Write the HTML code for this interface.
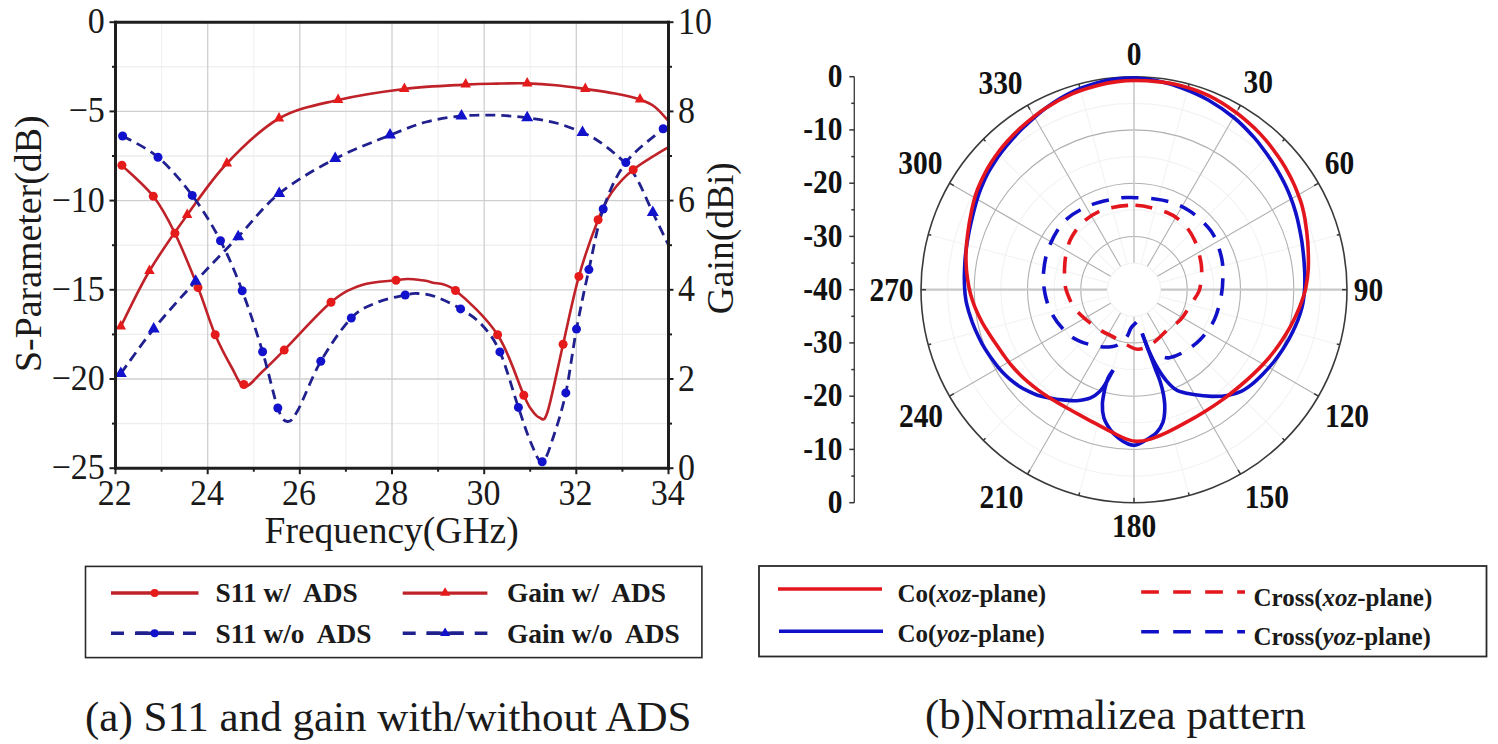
<!DOCTYPE html>
<html><head><meta charset="utf-8"><style>
html,body{margin:0;padding:0;background:#fff;}
body{width:1498px;height:744px;overflow:hidden;font-family:"Liberation Serif",serif;}
svg{display:block;}
</style></head><body>
<svg width="1498" height="744" viewBox="0 0 1498 744">
<rect width="1498" height="744" fill="#ffffff"/>
<line x1="161.6" y1="22.2" x2="161.6" y2="468.2" stroke="#f2f2f2" stroke-width="1.2"/>
<line x1="253.8" y1="22.2" x2="253.8" y2="468.2" stroke="#f2f2f2" stroke-width="1.2"/>
<line x1="345.9" y1="22.2" x2="345.9" y2="468.2" stroke="#f2f2f2" stroke-width="1.2"/>
<line x1="438.1" y1="22.2" x2="438.1" y2="468.2" stroke="#f2f2f2" stroke-width="1.2"/>
<line x1="530.2" y1="22.2" x2="530.2" y2="468.2" stroke="#f2f2f2" stroke-width="1.2"/>
<line x1="622.4" y1="22.2" x2="622.4" y2="468.2" stroke="#f2f2f2" stroke-width="1.2"/>
<line x1="115.5" y1="66.8" x2="668.5" y2="66.8" stroke="#ededed" stroke-width="1.3"/>
<line x1="115.5" y1="156.0" x2="668.5" y2="156.0" stroke="#ededed" stroke-width="1.3"/>
<line x1="115.5" y1="245.2" x2="668.5" y2="245.2" stroke="#ededed" stroke-width="1.3"/>
<line x1="115.5" y1="334.4" x2="668.5" y2="334.4" stroke="#ededed" stroke-width="1.3"/>
<line x1="115.5" y1="423.6" x2="668.5" y2="423.6" stroke="#ededed" stroke-width="1.3"/>
<line x1="207.7" y1="22.2" x2="207.7" y2="468.2" stroke="#cfcfcf" stroke-width="1.3"/>
<line x1="299.8" y1="22.2" x2="299.8" y2="468.2" stroke="#cfcfcf" stroke-width="1.3"/>
<line x1="392.0" y1="22.2" x2="392.0" y2="468.2" stroke="#cfcfcf" stroke-width="1.3"/>
<line x1="484.2" y1="22.2" x2="484.2" y2="468.2" stroke="#cfcfcf" stroke-width="1.3"/>
<line x1="576.3" y1="22.2" x2="576.3" y2="468.2" stroke="#cfcfcf" stroke-width="1.3"/>
<line x1="115.5" y1="111.4" x2="668.5" y2="111.4" stroke="#cfcfcf" stroke-width="1.3"/>
<line x1="115.5" y1="200.6" x2="668.5" y2="200.6" stroke="#cfcfcf" stroke-width="1.3"/>
<line x1="115.5" y1="289.8" x2="668.5" y2="289.8" stroke="#cfcfcf" stroke-width="1.3"/>
<line x1="115.5" y1="379.0" x2="668.5" y2="379.0" stroke="#cfcfcf" stroke-width="1.3"/>
<g fill="none" stroke-linejoin="round">
<path d="M120.8,326.5 C125.6,317.2 138.3,289.6 149.4,271.0 C160.5,252.4 174.3,232.9 187.2,215.0 C200.1,197.1 211.5,179.6 226.8,163.5 C242.1,147.4 260.4,129.1 279.0,118.5 C297.6,107.9 317.2,104.9 338.1,100.0 C359.0,95.1 383.1,91.6 404.4,89.0 C425.7,86.4 450.3,85.5 465.7,84.6 C481.1,83.7 486.8,83.8 497.0,83.6 C507.2,83.4 517.4,83.1 527.2,83.4 C537.0,83.7 546.3,84.3 556.0,85.2 C565.7,86.1 575.5,87.6 585.3,89.0 C595.1,90.4 605.9,91.8 615.0,93.5 C624.1,95.2 633.3,97.2 640.0,99.5 C646.7,101.8 650.3,103.4 655.0,107.0 C659.7,110.6 666.2,118.7 668.4,121.0" stroke="#bf2228" stroke-width="2.6"/>
<path d="M121.9,165.3 C127.1,170.5 144.5,185.0 153.3,196.3 C162.1,207.6 167.5,218.0 174.9,233.2 C182.3,248.4 191.3,270.7 198.0,287.6 C204.7,304.5 209.5,321.4 215.2,334.8 C220.9,348.2 227.1,359.4 232.0,368.0 C236.9,376.6 239.5,385.8 244.5,386.5 C249.5,387.2 255.4,378.1 262.0,372.0 C268.6,365.9 272.7,361.7 284.2,350.1 C295.7,338.5 318.0,313.2 331.0,302.3 C344.0,291.4 351.2,288.7 362.0,285.0 C372.8,281.3 388.5,281.3 396.0,280.3 C403.5,279.3 403.0,279.1 407.0,279.0 C411.0,278.9 415.8,279.4 420.0,280.0 C424.2,280.6 426.1,280.6 432.0,282.4 C437.9,284.1 444.6,281.8 455.5,290.5 C466.4,299.2 486.2,317.3 497.6,334.8 C509.0,352.3 518.2,382.9 523.8,395.3 C529.4,407.7 528.4,405.3 531.0,409.0 C533.6,412.7 536.8,417.1 539.5,417.6 C542.2,418.1 543.6,424.2 547.5,412.0 C551.4,399.8 557.9,366.8 563.1,344.2 C568.3,321.6 573.1,297.1 578.9,276.4 C584.7,255.6 592.6,233.8 598.1,219.7 C603.6,205.6 606.1,200.3 612.0,192.0 C617.9,183.7 623.8,177.2 633.2,169.7 C642.6,162.2 662.6,150.8 668.5,147.0" stroke="#bf2228" stroke-width="2.6"/>
<path d="M120.8,373.5 C126.3,366.1 141.2,344.4 153.7,329.0 C166.2,313.6 181.6,296.7 195.7,281.3 C209.8,265.9 224.3,251.4 238.2,236.8 C252.1,222.2 263.0,206.6 279.2,193.6 C295.4,180.6 316.7,168.4 335.2,158.7 C353.7,149.0 374.9,141.3 390.0,135.2 C405.1,129.1 414.1,125.2 426.0,122.0 C437.9,118.8 450.0,117.1 461.5,116.0 C473.0,114.9 484.1,114.9 495.0,115.2 C505.9,115.5 517.0,116.5 527.2,117.8 C537.4,119.1 546.8,120.5 556.0,123.0 C565.2,125.5 575.1,129.3 582.5,132.5 C589.9,135.7 593.3,137.3 600.3,142.3 C607.3,147.3 618.4,156.3 624.5,162.4 C630.6,168.5 632.3,170.7 637.0,179.0 C641.7,187.3 647.5,201.5 652.8,212.5 C658.0,223.5 665.9,239.6 668.5,245.0" stroke="#20208e" stroke-width="2.8" stroke-dasharray="10,6"/>
<path d="M122.6,136.0 C128.5,139.5 146.4,147.3 158.0,157.2 C169.6,167.1 181.8,181.5 192.2,195.4 C202.6,209.3 212.2,224.9 220.5,240.8 C228.8,256.7 235.2,272.3 242.2,290.8 C249.2,309.3 256.7,332.3 262.6,351.8 C268.5,371.3 273.7,396.4 277.8,408.0 C281.9,419.6 284.1,421.2 287.5,421.5 C290.9,421.8 292.4,420.0 298.0,410.0 C303.6,400.0 311.9,376.6 320.8,361.3 C329.7,346.0 341.9,327.8 351.3,318.0 C360.7,308.2 368.0,306.3 377.0,302.5 C386.0,298.7 398.4,296.5 405.2,295.0 C412.0,293.5 413.0,293.2 418.0,293.5 C423.0,293.8 427.9,293.9 435.0,296.5 C442.1,299.1 452.8,304.1 460.6,308.9 C468.4,313.6 475.4,317.8 482.0,325.0 C488.6,332.2 493.8,338.2 499.9,351.9 C506.0,365.6 513.2,392.2 518.4,407.4 C523.6,422.6 527.0,433.9 531.0,443.0 C535.0,452.1 538.5,462.8 542.2,462.0 C545.9,461.2 549.1,449.5 553.0,438.0 C556.9,426.5 561.9,411.0 565.8,392.9 C569.7,374.8 572.6,349.7 576.5,329.1 C580.4,308.6 584.4,289.6 588.9,269.6 C593.4,249.6 597.1,226.8 603.2,209.0 C609.4,191.2 615.8,176.0 625.8,162.6 C635.8,149.2 657.0,134.3 663.2,128.7" stroke="#20208e" stroke-width="2.8" stroke-dasharray="10,6"/>
</g>
<circle cx="121.9" cy="165.3" r="4.5" fill="#e51b1b"/>
<circle cx="153.3" cy="196.3" r="4.5" fill="#e51b1b"/>
<circle cx="174.9" cy="233.2" r="4.5" fill="#e51b1b"/>
<circle cx="198.0" cy="287.6" r="4.5" fill="#e51b1b"/>
<circle cx="215.2" cy="334.8" r="4.5" fill="#e51b1b"/>
<circle cx="243.8" cy="384.5" r="4.5" fill="#e51b1b"/>
<circle cx="284.2" cy="350.1" r="4.5" fill="#e51b1b"/>
<circle cx="331.0" cy="302.3" r="4.5" fill="#e51b1b"/>
<circle cx="396.0" cy="280.3" r="4.5" fill="#e51b1b"/>
<circle cx="455.5" cy="290.5" r="4.5" fill="#e51b1b"/>
<circle cx="497.6" cy="334.8" r="4.5" fill="#e51b1b"/>
<circle cx="523.8" cy="395.3" r="4.5" fill="#e51b1b"/>
<circle cx="563.1" cy="344.2" r="4.5" fill="#e51b1b"/>
<circle cx="578.9" cy="276.4" r="4.5" fill="#e51b1b"/>
<circle cx="598.1" cy="219.7" r="4.5" fill="#e51b1b"/>
<circle cx="633.2" cy="169.7" r="4.5" fill="#e51b1b"/>
<path d="M120.8,320.0 L126.0,329.5 L115.5,329.5 Z" fill="#e51b1b"/>
<path d="M149.4,264.5 L154.7,274.0 L144.2,274.0 Z" fill="#e51b1b"/>
<path d="M187.2,208.5 L192.4,218.0 L181.9,218.0 Z" fill="#e51b1b"/>
<path d="M226.8,157.0 L232.1,166.5 L221.6,166.5 Z" fill="#e51b1b"/>
<path d="M279.0,112.0 L284.2,121.5 L273.8,121.5 Z" fill="#e51b1b"/>
<path d="M338.1,93.5 L343.4,103.0 L332.9,103.0 Z" fill="#e51b1b"/>
<path d="M404.4,82.5 L409.6,92.0 L399.1,92.0 Z" fill="#e51b1b"/>
<path d="M465.7,78.1 L470.9,87.6 L460.4,87.6 Z" fill="#e51b1b"/>
<path d="M527.2,76.9 L532.5,86.4 L522.0,86.4 Z" fill="#e51b1b"/>
<path d="M585.3,82.5 L590.5,92.0 L580.0,92.0 Z" fill="#e51b1b"/>
<path d="M640.0,93.0 L645.2,102.5 L634.8,102.5 Z" fill="#e51b1b"/>
<circle cx="122.6" cy="136.0" r="4.5" fill="#1212cc"/>
<circle cx="158.0" cy="157.2" r="4.5" fill="#1212cc"/>
<circle cx="192.2" cy="195.4" r="4.5" fill="#1212cc"/>
<circle cx="220.5" cy="240.8" r="4.5" fill="#1212cc"/>
<circle cx="242.2" cy="290.8" r="4.5" fill="#1212cc"/>
<circle cx="262.6" cy="351.8" r="4.5" fill="#1212cc"/>
<circle cx="277.8" cy="408.0" r="4.5" fill="#1212cc"/>
<circle cx="320.8" cy="361.3" r="4.5" fill="#1212cc"/>
<circle cx="351.3" cy="318.0" r="4.5" fill="#1212cc"/>
<circle cx="405.2" cy="295.0" r="4.5" fill="#1212cc"/>
<circle cx="460.6" cy="308.9" r="4.5" fill="#1212cc"/>
<circle cx="499.9" cy="351.9" r="4.5" fill="#1212cc"/>
<circle cx="518.4" cy="407.4" r="4.5" fill="#1212cc"/>
<circle cx="542.2" cy="461.8" r="4.5" fill="#1212cc"/>
<circle cx="565.8" cy="392.9" r="4.5" fill="#1212cc"/>
<circle cx="576.5" cy="329.1" r="4.5" fill="#1212cc"/>
<circle cx="588.9" cy="269.6" r="4.5" fill="#1212cc"/>
<circle cx="603.2" cy="209.0" r="4.5" fill="#1212cc"/>
<circle cx="625.8" cy="162.6" r="4.5" fill="#1212cc"/>
<circle cx="663.2" cy="128.7" r="4.5" fill="#1212cc"/>
<path d="M120.8,366.4 L126.8,376.9 L114.8,376.9 Z" fill="#1212cc"/>
<path d="M153.7,321.9 L159.7,332.4 L147.7,332.4 Z" fill="#1212cc"/>
<path d="M195.7,274.2 L201.7,284.7 L189.7,284.7 Z" fill="#1212cc"/>
<path d="M238.2,229.7 L244.2,240.2 L232.2,240.2 Z" fill="#1212cc"/>
<path d="M279.2,186.5 L285.2,197.0 L273.2,197.0 Z" fill="#1212cc"/>
<path d="M335.2,151.6 L341.2,162.1 L329.2,162.1 Z" fill="#1212cc"/>
<path d="M390.0,128.1 L396.0,138.6 L384.0,138.6 Z" fill="#1212cc"/>
<path d="M461.5,108.9 L467.5,119.4 L455.5,119.4 Z" fill="#1212cc"/>
<path d="M527.2,110.7 L533.2,121.2 L521.2,121.2 Z" fill="#1212cc"/>
<path d="M582.5,125.4 L588.5,135.9 L576.5,135.9 Z" fill="#1212cc"/>
<path d="M652.8,205.4 L658.8,215.9 L646.8,215.9 Z" fill="#1212cc"/>
<g stroke="#1e1e1e" stroke-width="3" fill="none" stroke-linecap="square">
<line x1="115.5" y1="22.2" x2="115.5" y2="468.2"/>
<line x1="115.5" y1="468.2" x2="668.5" y2="468.2"/>
<line x1="668.5" y1="22.2" x2="668.5" y2="468.2"/>
<line x1="115.5" y1="22.2" x2="668.5" y2="22.2"/>
</g>
<g stroke="#1e1e1e" stroke-width="2">
<line x1="109.5" y1="22.2" x2="115.5" y2="22.2"/>
<line x1="668.5" y1="22.2" x2="673.5" y2="22.2"/>
<line x1="109.5" y1="111.4" x2="115.5" y2="111.4"/>
<line x1="668.5" y1="111.4" x2="673.5" y2="111.4"/>
<line x1="109.5" y1="200.6" x2="115.5" y2="200.6"/>
<line x1="668.5" y1="200.6" x2="673.5" y2="200.6"/>
<line x1="109.5" y1="289.8" x2="115.5" y2="289.8"/>
<line x1="668.5" y1="289.8" x2="673.5" y2="289.8"/>
<line x1="109.5" y1="379.0" x2="115.5" y2="379.0"/>
<line x1="668.5" y1="379.0" x2="673.5" y2="379.0"/>
<line x1="109.5" y1="468.2" x2="115.5" y2="468.2"/>
<line x1="668.5" y1="468.2" x2="673.5" y2="468.2"/>
<line x1="112.0" y1="66.8" x2="115.5" y2="66.8"/>
<line x1="668.5" y1="66.8" x2="672.0" y2="66.8"/>
<line x1="112.0" y1="156.0" x2="115.5" y2="156.0"/>
<line x1="668.5" y1="156.0" x2="672.0" y2="156.0"/>
<line x1="112.0" y1="245.2" x2="115.5" y2="245.2"/>
<line x1="668.5" y1="245.2" x2="672.0" y2="245.2"/>
<line x1="112.0" y1="334.4" x2="115.5" y2="334.4"/>
<line x1="668.5" y1="334.4" x2="672.0" y2="334.4"/>
<line x1="112.0" y1="423.6" x2="115.5" y2="423.6"/>
<line x1="668.5" y1="423.6" x2="672.0" y2="423.6"/>
<line x1="115.5" y1="468.2" x2="115.5" y2="474.2"/>
<line x1="207.7" y1="468.2" x2="207.7" y2="474.2"/>
<line x1="299.8" y1="468.2" x2="299.8" y2="474.2"/>
<line x1="392.0" y1="468.2" x2="392.0" y2="474.2"/>
<line x1="484.2" y1="468.2" x2="484.2" y2="474.2"/>
<line x1="576.3" y1="468.2" x2="576.3" y2="474.2"/>
<line x1="668.5" y1="468.2" x2="668.5" y2="474.2"/>
<line x1="161.6" y1="468.2" x2="161.6" y2="471.7"/>
<line x1="253.8" y1="468.2" x2="253.8" y2="471.7"/>
<line x1="345.9" y1="468.2" x2="345.9" y2="471.7"/>
<line x1="438.1" y1="468.2" x2="438.1" y2="471.7"/>
<line x1="530.2" y1="468.2" x2="530.2" y2="471.7"/>
<line x1="622.4" y1="468.2" x2="622.4" y2="471.7"/>
</g>
<g font-family="Liberation Serif" font-size="34" fill="#1a1a1a">
<text transform="translate(104.8,33.1) scale(1,1.04)" text-anchor="end">0</text>
<text transform="translate(104.8,122.3) scale(1,1.04)" text-anchor="end">−5</text>
<text transform="translate(104.8,211.5) scale(1,1.04)" text-anchor="end">−10</text>
<text transform="translate(104.8,300.7) scale(1,1.04)" text-anchor="end">−15</text>
<text transform="translate(104.8,389.9) scale(1,1.04)" text-anchor="end">−20</text>
<text transform="translate(104.8,479.1) scale(1,1.04)" text-anchor="end">−25</text>
<text transform="translate(678.1,33.8) scale(1,1.12)">10</text>
<text transform="translate(678.1,123.0) scale(1,1.12)">8</text>
<text transform="translate(678.1,212.2) scale(1,1.12)">6</text>
<text transform="translate(678.1,301.4) scale(1,1.12)">4</text>
<text transform="translate(678.1,390.6) scale(1,1.12)">2</text>
<text transform="translate(678.1,479.8) scale(1,1.12)">0</text>
<text transform="translate(114.7,504.8) scale(1,1.07)" text-anchor="middle">22</text>
<text transform="translate(206.9,504.8) scale(1,1.07)" text-anchor="middle">24</text>
<text transform="translate(299.0,504.8) scale(1,1.07)" text-anchor="middle">26</text>
<text transform="translate(391.2,504.8) scale(1,1.07)" text-anchor="middle">28</text>
<text transform="translate(483.4,504.8) scale(1,1.07)" text-anchor="middle">30</text>
<text transform="translate(575.5,504.8) scale(1,1.07)" text-anchor="middle">32</text>
<text transform="translate(667.7,504.8) scale(1,1.07)" text-anchor="middle">34</text>
</g>
<g font-family="Liberation Serif" font-size="37.5" fill="#1a1a1a">
<text x="391.6" y="542.5" text-anchor="middle">Frequency(GHz)</text>
<text transform="translate(41.3,243.7) rotate(-90)" text-anchor="middle" font-size="37.9">S-Parameter(dB)</text>
<text transform="translate(733,238.2) rotate(-90)" text-anchor="middle">Gain(dBi)</text>
</g>
<rect x="85.5" y="566.4" width="616.4" height="91.2" fill="none" stroke="#2a2a2a" stroke-width="1.6"/>
<line x1="111" y1="593" x2="198.5" y2="593" stroke="#bf2228" stroke-width="3.4"/>
<circle cx="154.6" cy="593" r="4" fill="#e51b1b"/>
<line x1="111" y1="633.3" x2="198.5" y2="633.3" stroke="#20208e" stroke-width="3.4" stroke-dasharray="13,11"/>
<line x1="136" y1="633.3" x2="174" y2="633.3" stroke="#20208e" stroke-width="3.4"/>
<circle cx="154.6" cy="633.3" r="4" fill="#1212cc"/>
<line x1="402.7" y1="593.1" x2="487.4" y2="593.1" stroke="#bf2228" stroke-width="3.4"/>
<path d="M445.1,587.3 L450.1,595.8 L440.1,595.8 Z" fill="#e51b1b"/>
<line x1="402.7" y1="633.3" x2="487.4" y2="633.3" stroke="#20208e" stroke-width="3.4" stroke-dasharray="13,11"/>
<line x1="426.5" y1="633.3" x2="463.5" y2="633.3" stroke="#20208e" stroke-width="3.4"/>
<path d="M445.1,627.5 L450.1,636.0 L440.1,636.0 Z" fill="#1212cc"/>
<g font-family="Liberation Serif" font-size="27.4" font-weight="bold" fill="#1a1a1a">
<text x="215.5" y="602">S11 w/&#160; ADS</text>
<text x="215.5" y="642.5">S11 w/o&#160; ADS</text>
<text x="507" y="601.5">Gain w/&#160; ADS</text>
<text x="507" y="642.5">Gain w/o&#160; ADS</text>
</g>
<text x="85" y="731" font-family="Liberation Serif" font-size="43" fill="#1a1a1a">(a) S11 and gain with/without ADS</text>
<circle cx="1134.0" cy="289.7" r="26.6" fill="none" stroke="#f3f3f3" stroke-width="1.2"/>
<circle cx="1134.0" cy="289.7" r="79.9" fill="none" stroke="#f3f3f3" stroke-width="1.2"/>
<circle cx="1134.0" cy="289.7" r="133.1" fill="none" stroke="#f3f3f3" stroke-width="1.2"/>
<circle cx="1134.0" cy="289.7" r="186.4" fill="none" stroke="#f3f3f3" stroke-width="1.2"/>
<line x1="1141.0" y1="263.6" x2="1189.1" y2="84.0" stroke="#f4f4f4" stroke-width="1.2"/>
<line x1="1153.1" y1="270.6" x2="1284.6" y2="139.1" stroke="#f4f4f4" stroke-width="1.2"/>
<line x1="1160.1" y1="282.7" x2="1339.7" y2="234.6" stroke="#f4f4f4" stroke-width="1.2"/>
<line x1="1160.1" y1="296.7" x2="1339.7" y2="344.8" stroke="#f4f4f4" stroke-width="1.2"/>
<line x1="1153.1" y1="308.8" x2="1284.6" y2="440.3" stroke="#f4f4f4" stroke-width="1.2"/>
<line x1="1141.0" y1="315.8" x2="1189.1" y2="495.4" stroke="#f4f4f4" stroke-width="1.2"/>
<line x1="1127.0" y1="315.8" x2="1078.9" y2="495.4" stroke="#f4f4f4" stroke-width="1.2"/>
<line x1="1114.9" y1="308.8" x2="983.4" y2="440.3" stroke="#f4f4f4" stroke-width="1.2"/>
<line x1="1107.9" y1="296.7" x2="928.3" y2="344.8" stroke="#f4f4f4" stroke-width="1.2"/>
<line x1="1107.9" y1="282.7" x2="928.3" y2="234.6" stroke="#f4f4f4" stroke-width="1.2"/>
<line x1="1114.9" y1="270.6" x2="983.4" y2="139.1" stroke="#f4f4f4" stroke-width="1.2"/>
<line x1="1127.0" y1="263.6" x2="1078.9" y2="84.0" stroke="#f4f4f4" stroke-width="1.2"/>
<circle cx="1134.0" cy="289.7" r="53.2" fill="none" stroke="#b0b0b0" stroke-width="1.1"/>
<circle cx="1134.0" cy="289.7" r="106.5" fill="none" stroke="#b0b0b0" stroke-width="1.1"/>
<circle cx="1134.0" cy="289.7" r="159.8" fill="none" stroke="#b0b0b0" stroke-width="1.1"/>
<line x1="1134.0" y1="262.7" x2="1134.0" y2="76.7" stroke="#c8c8c8" stroke-width="1.6"/>
<line x1="1147.5" y1="266.3" x2="1240.5" y2="105.2" stroke="#b0b0b0" stroke-width="1.1"/>
<line x1="1157.4" y1="276.2" x2="1318.5" y2="183.2" stroke="#b0b0b0" stroke-width="1.1"/>
<line x1="1161.0" y1="289.7" x2="1347.0" y2="289.7" stroke="#c8c8c8" stroke-width="2.2"/>
<line x1="1157.4" y1="303.2" x2="1318.5" y2="396.2" stroke="#b0b0b0" stroke-width="1.1"/>
<line x1="1147.5" y1="313.1" x2="1240.5" y2="474.2" stroke="#b0b0b0" stroke-width="1.1"/>
<line x1="1134.0" y1="316.7" x2="1134.0" y2="502.7" stroke="#c8c8c8" stroke-width="1.6"/>
<line x1="1120.5" y1="313.1" x2="1027.5" y2="474.2" stroke="#b0b0b0" stroke-width="1.1"/>
<line x1="1110.6" y1="303.2" x2="949.5" y2="396.2" stroke="#b0b0b0" stroke-width="1.1"/>
<line x1="1107.0" y1="289.7" x2="921.0" y2="289.7" stroke="#c8c8c8" stroke-width="2.2"/>
<line x1="1110.6" y1="276.2" x2="949.5" y2="183.2" stroke="#b0b0b0" stroke-width="1.1"/>
<line x1="1120.5" y1="266.3" x2="1027.5" y2="105.2" stroke="#b0b0b0" stroke-width="1.1"/>
<circle cx="1134.0" cy="289.7" r="213.0" fill="none" stroke="#3a3a3a" stroke-width="1.6"/>
<line x1="1134.0" y1="81.7" x2="1134.0" y2="76.7" stroke="#3a3a3a" stroke-width="1.5"/>
<line x1="1188.4" y1="86.9" x2="1189.1" y2="84.0" stroke="#3a3a3a" stroke-width="1.5"/>
<line x1="1238.0" y1="109.6" x2="1240.5" y2="105.2" stroke="#3a3a3a" stroke-width="1.5"/>
<line x1="1282.5" y1="141.2" x2="1284.6" y2="139.1" stroke="#3a3a3a" stroke-width="1.5"/>
<line x1="1314.1" y1="185.7" x2="1318.5" y2="183.2" stroke="#3a3a3a" stroke-width="1.5"/>
<line x1="1336.8" y1="235.3" x2="1339.7" y2="234.6" stroke="#3a3a3a" stroke-width="1.5"/>
<line x1="1342.0" y1="289.7" x2="1347.0" y2="289.7" stroke="#3a3a3a" stroke-width="1.5"/>
<line x1="1336.8" y1="344.1" x2="1339.7" y2="344.8" stroke="#3a3a3a" stroke-width="1.5"/>
<line x1="1314.1" y1="393.7" x2="1318.5" y2="396.2" stroke="#3a3a3a" stroke-width="1.5"/>
<line x1="1282.5" y1="438.2" x2="1284.6" y2="440.3" stroke="#3a3a3a" stroke-width="1.5"/>
<line x1="1238.0" y1="469.8" x2="1240.5" y2="474.2" stroke="#3a3a3a" stroke-width="1.5"/>
<line x1="1188.4" y1="492.5" x2="1189.1" y2="495.4" stroke="#3a3a3a" stroke-width="1.5"/>
<line x1="1134.0" y1="497.7" x2="1134.0" y2="502.7" stroke="#3a3a3a" stroke-width="1.5"/>
<line x1="1079.6" y1="492.5" x2="1078.9" y2="495.4" stroke="#3a3a3a" stroke-width="1.5"/>
<line x1="1030.0" y1="469.8" x2="1027.5" y2="474.2" stroke="#3a3a3a" stroke-width="1.5"/>
<line x1="985.5" y1="438.2" x2="983.4" y2="440.3" stroke="#3a3a3a" stroke-width="1.5"/>
<line x1="953.9" y1="393.7" x2="949.5" y2="396.2" stroke="#3a3a3a" stroke-width="1.5"/>
<line x1="931.2" y1="344.1" x2="928.3" y2="344.8" stroke="#3a3a3a" stroke-width="1.5"/>
<line x1="926.0" y1="289.7" x2="921.0" y2="289.7" stroke="#3a3a3a" stroke-width="1.5"/>
<line x1="931.2" y1="235.3" x2="928.3" y2="234.6" stroke="#3a3a3a" stroke-width="1.5"/>
<line x1="953.9" y1="185.7" x2="949.5" y2="183.2" stroke="#3a3a3a" stroke-width="1.5"/>
<line x1="985.5" y1="141.2" x2="983.4" y2="139.1" stroke="#3a3a3a" stroke-width="1.5"/>
<line x1="1030.0" y1="109.6" x2="1027.5" y2="105.2" stroke="#3a3a3a" stroke-width="1.5"/>
<line x1="1079.6" y1="86.9" x2="1078.9" y2="84.0" stroke="#3a3a3a" stroke-width="1.5"/>
<g fill="none" stroke-linejoin="round" stroke-linecap="butt">
<path d="M1135.4,205.3 C1145.8,205.8 1158.4,209.2 1166.4,212.3 C1174.4,215.4 1178.7,218.9 1183.4,223.6 C1188.1,228.3 1191.7,233.9 1194.7,240.6 C1197.7,247.3 1200.2,257.4 1201.2,264.0 C1202.2,270.6 1201.4,275.4 1201.0,280.0 C1200.6,284.6 1200.4,287.6 1198.9,291.4 C1197.4,295.2 1195.0,298.0 1191.9,302.7 C1188.9,307.4 1184.4,315.4 1180.6,319.6 C1176.8,323.8 1174.0,324.1 1169.3,328.1 C1164.6,332.1 1157.5,340.1 1152.3,343.6 C1147.1,347.1 1142.4,349.1 1138.2,349.3 C1134.0,349.5 1131.2,347.1 1127.0,345.0 C1122.8,342.9 1117.0,339.0 1112.8,336.6 C1108.5,334.2 1106.0,333.7 1101.5,330.9 C1097.0,328.1 1090.5,323.4 1086.0,319.6 C1081.5,315.8 1077.8,312.5 1074.7,308.3 C1071.6,304.1 1069.2,298.4 1067.6,294.2 C1065.9,290.0 1065.3,288.0 1064.8,283.0 C1064.3,278.0 1064.4,269.5 1064.8,264.0 C1065.2,258.5 1065.8,254.6 1067.0,250.0 C1068.2,245.4 1069.1,241.4 1072.0,236.5 C1074.9,231.6 1079.2,225.3 1084.6,220.8 C1090.0,216.3 1095.8,212.1 1104.3,209.5 C1112.8,206.9 1125.1,204.8 1135.4,205.3Z" stroke="#e3161e" stroke-width="3.6" stroke-dasharray="17,12.5"/>
<path d="M1136.5,322.3 C1135.6,323.2 1132.6,325.6 1131.0,328.0 C1129.4,330.4 1128.8,334.0 1127.0,336.6 C1125.2,339.2 1122.4,341.9 1120.0,343.5 C1117.6,345.1 1116.3,346.0 1112.8,346.5 C1109.2,347.0 1104.3,347.4 1098.7,346.5 C1093.1,345.6 1084.6,343.4 1078.9,340.8 C1073.2,338.2 1069.3,335.4 1064.8,330.9 C1060.3,326.4 1055.4,320.1 1052.1,314.0 C1048.8,307.9 1046.5,301.3 1045.1,294.2 C1043.7,287.1 1042.9,279.6 1043.6,271.6 C1044.3,263.6 1045.8,254.7 1049.3,246.2 C1052.8,237.7 1058.0,227.6 1064.8,220.8 C1071.6,214.0 1081.2,209.1 1090.2,205.3 C1099.2,201.5 1111.0,199.5 1118.5,198.2 C1126.0,196.9 1129.3,197.6 1135.4,197.7 C1141.5,197.8 1148.9,198.2 1155.0,199.0 C1161.1,199.8 1166.6,200.7 1172.1,202.5 C1177.6,204.3 1183.3,207.2 1188.0,210.0 C1192.7,212.8 1196.5,215.9 1200.3,219.4 C1204.1,222.9 1208.2,227.0 1211.0,231.0 C1213.8,235.0 1215.5,238.6 1217.3,243.4 C1219.1,248.2 1221.1,254.8 1222.0,260.0 C1222.9,265.2 1223.0,268.8 1222.9,274.5 C1222.8,280.2 1222.9,286.7 1221.5,294.2 C1220.1,301.7 1217.9,312.1 1214.4,319.6 C1210.9,327.1 1205.5,334.0 1200.3,339.4 C1195.1,344.8 1188.6,349.1 1183.4,352.1 C1178.2,355.2 1173.1,357.0 1169.3,357.7 C1165.5,358.4 1162.2,356.5 1160.8,356.3" stroke="#1010c8" stroke-width="3.6" stroke-dasharray="17.5,12.5"/>
<path d="M1113.1,370.2 C1112.0,372.1 1108.8,378.4 1106.6,381.9 C1104.4,385.4 1102.7,388.6 1100.0,391.3 C1097.3,394.0 1094.5,396.3 1090.6,397.9 C1086.7,399.5 1080.6,400.3 1076.5,400.7 C1072.4,401.1 1069.1,400.4 1065.7,400.1 C1062.3,399.8 1059.3,399.6 1056.2,399.2 C1053.1,398.8 1050.1,398.3 1047.0,397.6 C1043.9,397.0 1040.7,396.2 1037.6,395.2 C1034.5,394.1 1031.3,392.8 1028.2,391.2 C1025.1,389.7 1021.9,387.9 1018.8,385.9 C1015.7,383.8 1012.6,381.5 1009.8,379.1 C1007.0,376.8 1004.5,374.3 1002.1,371.8 C999.7,369.2 997.7,366.7 995.5,363.8 C993.2,360.8 990.8,357.7 988.6,354.3 C986.4,351.0 984.1,347.3 982.1,343.8 C980.2,340.2 978.4,336.6 976.8,333.0 C975.1,329.4 973.7,325.9 972.3,322.3 C971.0,318.7 969.8,315.1 968.7,311.5 C967.7,307.9 966.7,304.7 966.0,300.8 C965.3,296.8 964.8,292.7 964.6,287.7 C964.3,282.7 964.3,276.6 964.5,270.9 C964.7,265.1 964.9,259.4 965.7,252.9 C966.4,246.5 967.6,239.3 969.0,232.2 C970.4,225.0 972.5,216.3 974.1,210.0 C975.8,203.8 977.2,198.9 978.7,194.5 C980.1,190.1 981.3,187.4 982.9,183.8 C984.4,180.2 986.1,176.6 988.0,173.0 C990.0,169.4 992.1,165.9 994.5,162.3 C996.8,158.7 999.3,155.1 1002.1,151.5 C1004.8,147.9 1007.1,145.0 1010.9,140.8 C1014.7,136.6 1018.7,131.9 1024.7,126.3 C1030.7,120.7 1038.8,113.0 1046.9,107.2 C1055.0,101.4 1064.9,95.4 1073.4,91.4 C1081.8,87.3 1090.4,84.8 1097.6,82.7 C1104.9,80.6 1110.7,79.6 1117.0,78.9 C1123.3,78.1 1128.8,77.8 1135.5,78.1 C1142.2,78.4 1149.4,79.1 1157.0,80.7 C1164.6,82.3 1172.8,84.5 1181.3,87.7 C1189.8,90.9 1199.4,94.9 1208.2,100.0 C1217.1,105.1 1226.9,111.9 1234.4,118.0 C1242.0,124.2 1248.6,131.5 1253.6,136.9 C1258.6,142.4 1261.5,146.7 1264.5,150.8 C1267.6,154.9 1269.6,157.9 1272.0,161.5 C1274.3,165.1 1276.5,168.7 1278.6,172.3 C1280.6,175.9 1282.6,179.4 1284.3,183.0 C1286.1,186.6 1287.7,190.2 1289.2,193.8 C1290.6,197.4 1291.8,200.3 1293.2,204.5 C1294.6,208.8 1296.0,213.0 1297.5,219.4 C1298.9,225.7 1300.8,234.4 1302.0,242.5 C1303.1,250.6 1304.1,260.5 1304.5,268.1 C1305.0,275.7 1304.9,282.4 1304.7,288.0 C1304.4,293.7 1303.9,297.7 1303.1,302.1 C1302.4,306.5 1301.3,310.2 1300.0,314.2 C1298.7,318.2 1297.1,322.3 1295.3,326.3 C1293.5,330.3 1291.5,334.4 1289.3,338.4 C1287.1,342.4 1284.7,346.5 1282.0,350.5 C1279.4,354.5 1276.5,358.5 1273.3,362.5 C1270.0,366.5 1266.1,370.7 1262.5,374.4 C1258.8,378.1 1255.0,381.8 1251.5,384.6 C1247.9,387.4 1245.0,389.6 1241.2,391.4 C1237.3,393.2 1233.5,394.4 1228.6,395.2 C1223.8,396.1 1217.9,396.5 1212.0,396.4 C1206.1,396.2 1199.2,395.4 1193.4,394.5 C1187.6,393.5 1181.7,392.8 1177.1,390.4 C1172.5,388.0 1169.1,383.9 1165.8,380.0 C1162.5,376.1 1159.8,371.8 1157.0,367.0 C1154.2,362.2 1151.5,356.6 1149.0,351.0 C1146.5,345.4 1143.3,336.4 1142.2,333.5" stroke="#1010c8" stroke-width="3.6"/>
<path d="M1142.2,333.5 C1143.3,336.6 1146.9,346.2 1149.0,352.0 C1151.1,357.8 1153.2,363.2 1155.0,368.0 C1156.8,372.8 1158.6,376.6 1160.0,381.0 C1161.4,385.4 1162.6,389.6 1163.4,394.1 C1164.2,398.6 1164.9,403.5 1164.8,408.2 C1164.7,412.9 1164.3,418.3 1162.9,422.4 C1161.5,426.5 1159.5,429.6 1156.4,432.7 C1153.3,435.8 1147.5,439.1 1144.1,441.2 C1140.7,443.2 1138.4,444.5 1135.8,445.0 C1133.2,445.5 1131.0,445.1 1128.2,444.0 C1125.4,442.9 1121.8,440.8 1118.8,438.4 C1115.8,436.0 1112.9,433.4 1110.4,429.9 C1107.9,426.4 1105.1,422.0 1103.8,417.6 C1102.5,413.2 1102.2,408.2 1102.4,403.5 C1102.6,398.8 1103.8,393.6 1104.7,389.4 C1105.6,385.1 1106.6,381.2 1108.0,378.0 C1109.4,374.8 1112.2,371.5 1113.1,370.2" stroke="#1010c8" stroke-width="3.6"/>
<path d="M1135.5,80.5 C1142.2,80.5 1149.4,80.7 1157.0,81.6 C1164.6,82.4 1172.8,83.4 1181.3,85.7 C1189.8,88.0 1199.3,91.1 1208.2,95.4 C1217.2,99.7 1227.2,106.1 1235.0,111.7 C1242.9,117.2 1249.9,123.8 1255.1,128.7 C1260.3,133.5 1263.1,137.0 1266.2,140.7 C1269.4,144.4 1271.6,147.3 1274.1,150.8 C1276.7,154.2 1279.3,157.9 1281.6,161.5 C1283.9,165.1 1286.1,168.7 1288.0,172.3 C1290.0,175.9 1291.8,179.4 1293.4,183.0 C1295.1,186.6 1296.5,190.2 1297.9,193.8 C1299.2,197.4 1300.5,200.3 1301.7,204.5 C1302.8,208.8 1304.0,213.0 1305.0,219.4 C1306.0,225.7 1307.2,234.4 1307.8,242.5 C1308.3,250.6 1308.6,260.5 1308.3,268.1 C1308.0,275.7 1306.9,282.4 1305.8,288.0 C1304.6,293.7 1303.1,297.7 1301.5,302.1 C1300.0,306.5 1298.4,310.2 1296.5,314.2 C1294.7,318.2 1292.7,322.3 1290.5,326.3 C1288.3,330.3 1285.8,334.4 1283.2,338.4 C1280.6,342.4 1277.8,346.5 1274.8,350.5 C1271.7,354.5 1268.4,358.5 1264.8,362.5 C1261.2,366.5 1257.2,370.4 1253.0,374.4 C1248.8,378.4 1244.3,382.4 1239.3,386.5 C1234.4,390.6 1229.0,395.0 1223.4,399.1 C1217.7,403.2 1211.5,407.4 1205.3,411.2 C1199.1,415.1 1192.8,418.8 1186.5,422.2 C1180.2,425.7 1173.7,429.3 1167.6,432.1 C1161.6,434.9 1155.4,437.5 1150.3,439.1 C1145.2,440.6 1141.2,441.4 1137.2,441.4 C1133.3,441.4 1130.7,440.6 1126.6,439.1 C1122.6,437.7 1118.1,435.3 1112.9,432.7 C1107.7,430.1 1101.0,426.5 1095.3,423.4 C1089.6,420.4 1083.4,417.0 1078.6,414.4 C1073.7,411.8 1069.9,409.6 1066.2,407.5 C1062.5,405.4 1059.6,403.8 1056.4,401.9 C1053.2,400.0 1050.1,398.2 1047.0,396.2 C1043.9,394.1 1040.7,392.0 1037.6,389.6 C1034.5,387.3 1031.3,384.8 1028.2,382.1 C1025.1,379.5 1022.0,376.7 1019.1,373.7 C1016.2,370.8 1013.4,367.7 1010.7,364.5 C1008.0,361.3 1005.6,357.9 1003.1,354.4 C1000.6,350.9 998.2,347.3 995.8,343.8 C993.4,340.2 990.9,336.6 988.6,333.0 C986.3,329.4 984.1,325.9 982.1,322.3 C980.2,318.7 978.4,315.2 976.8,311.5 C975.1,307.9 973.7,304.4 972.4,300.3 C971.0,296.1 969.8,291.7 968.8,286.7 C967.9,281.7 967.0,276.0 966.5,270.4 C966.1,264.7 965.7,259.3 966.0,252.9 C966.2,246.6 966.9,239.3 967.9,232.2 C968.8,225.0 970.4,216.3 971.7,210.0 C973.0,203.8 974.3,198.9 975.7,194.5 C977.0,190.1 978.3,187.4 979.9,183.8 C981.4,180.2 983.1,176.6 985.0,173.0 C986.9,169.4 989.0,165.9 991.3,162.3 C993.6,158.7 996.1,155.1 998.8,151.5 C1001.6,147.9 1003.9,144.9 1007.7,140.8 C1011.6,136.6 1015.7,132.0 1021.9,126.7 C1028.1,121.3 1036.6,114.0 1045.1,108.5 C1053.5,102.9 1063.9,97.4 1072.6,93.6 C1081.4,89.8 1090.1,87.5 1097.5,85.5 C1104.9,83.5 1110.7,82.4 1117.0,81.6 C1123.3,80.8 1128.8,80.5 1135.5,80.5Z" stroke="#e3161e" stroke-width="3.6"/>
</g>
<g font-family="Liberation Serif" font-size="29.5" font-weight="bold" fill="#111" text-anchor="middle">
<text transform="translate(1134.0,64.8) scale(1,1.14)">0</text>
<text transform="translate(1258.3,93.3) scale(1,1.14)">30</text>
<text transform="translate(1339.4,174.0) scale(1,1.14)">60</text>
<text transform="translate(1368.5,300.9) scale(1,1.14)">90</text>
<text transform="translate(1347.0,426.9) scale(1,1.14)">120</text>
<text transform="translate(1266.8,507.8) scale(1,1.14)">150</text>
<text transform="translate(1134.2,537.1) scale(1,1.14)">180</text>
<text transform="translate(1001.5,507.8) scale(1,1.14)">210</text>
<text transform="translate(921.0,427.3) scale(1,1.14)">240</text>
<text transform="translate(891.5,300.6) scale(1,1.14)">270</text>
<text transform="translate(920.3,174.3) scale(1,1.14)">300</text>
<text transform="translate(1000.5,93.6) scale(1,1.14)">330</text>
</g>
<line x1="854.3" y1="76.7" x2="854.3" y2="502.7" stroke="#444" stroke-width="1.4"/>
<g stroke="#333" stroke-width="1.5">
<line x1="849.3" y1="76.7" x2="854.3" y2="76.7"/>
<line x1="849.3" y1="129.9" x2="854.3" y2="129.9"/>
<line x1="849.3" y1="183.2" x2="854.3" y2="183.2"/>
<line x1="849.3" y1="236.4" x2="854.3" y2="236.4"/>
<line x1="849.3" y1="289.7" x2="854.3" y2="289.7"/>
<line x1="849.3" y1="342.9" x2="854.3" y2="342.9"/>
<line x1="849.3" y1="396.2" x2="854.3" y2="396.2"/>
<line x1="849.3" y1="449.4" x2="854.3" y2="449.4"/>
<line x1="849.3" y1="502.7" x2="854.3" y2="502.7"/>
<line x1="851.3" y1="103.3" x2="854.3" y2="103.3"/>
<line x1="851.3" y1="156.6" x2="854.3" y2="156.6"/>
<line x1="851.3" y1="209.8" x2="854.3" y2="209.8"/>
<line x1="851.3" y1="263.1" x2="854.3" y2="263.1"/>
<line x1="851.3" y1="316.3" x2="854.3" y2="316.3"/>
<line x1="851.3" y1="369.6" x2="854.3" y2="369.6"/>
<line x1="851.3" y1="422.8" x2="854.3" y2="422.8"/>
<line x1="851.3" y1="476.1" x2="854.3" y2="476.1"/>
</g>
<g font-family="Liberation Serif" font-size="29.5" font-weight="bold" fill="#111" text-anchor="end">
<text transform="translate(842.6,86.9) scale(1,1.12)">0</text>
<text transform="translate(842.6,140.1) scale(1,1.12)">-10</text>
<text transform="translate(842.6,193.4) scale(1,1.12)">-20</text>
<text transform="translate(842.6,246.6) scale(1,1.12)">-30</text>
<text transform="translate(842.6,299.9) scale(1,1.12)">-40</text>
<text transform="translate(842.6,353.1) scale(1,1.12)">-30</text>
<text transform="translate(842.6,406.4) scale(1,1.12)">-20</text>
<text transform="translate(842.6,459.6) scale(1,1.12)">-10</text>
<text transform="translate(842.6,512.9) scale(1,1.12)">0</text>
</g>
<rect x="759" y="566" width="727.5" height="90.5" fill="none" stroke="#2a2a2a" stroke-width="1.8"/>
<line x1="778" y1="589" x2="882" y2="589" stroke="#e3161e" stroke-width="3.4"/>
<line x1="779" y1="631.3" x2="883" y2="631.3" stroke="#1010c8" stroke-width="3.4"/>
<line x1="1141.2" y1="592" x2="1245" y2="592" stroke="#e3161e" stroke-width="3.4" stroke-dasharray="17.7,14.3"/>
<line x1="1141.2" y1="631.8" x2="1245" y2="631.8" stroke="#1010c8" stroke-width="3.4" stroke-dasharray="17.7,14.3"/>
<g font-family="Liberation Serif" font-size="25" font-weight="bold" fill="#1a1a1a">
<text x="897.5" y="602">Co(<tspan font-style="italic">xoz</tspan>-plane)</text>
<text x="897.5" y="642.3">Co(<tspan font-style="italic">yoz</tspan>-plane)</text>
<text x="1253.5" y="605.8">Cross(<tspan font-style="italic">xoz</tspan>-plane)</text>
<text x="1253.5" y="645">Cross(<tspan font-style="italic">yoz</tspan>-plane)</text>
</g>
<text x="925" y="728.7" font-family="Liberation Serif" font-size="43" fill="#1a1a1a">(b)Normalizea pattern</text>
</svg>
</body></html>
